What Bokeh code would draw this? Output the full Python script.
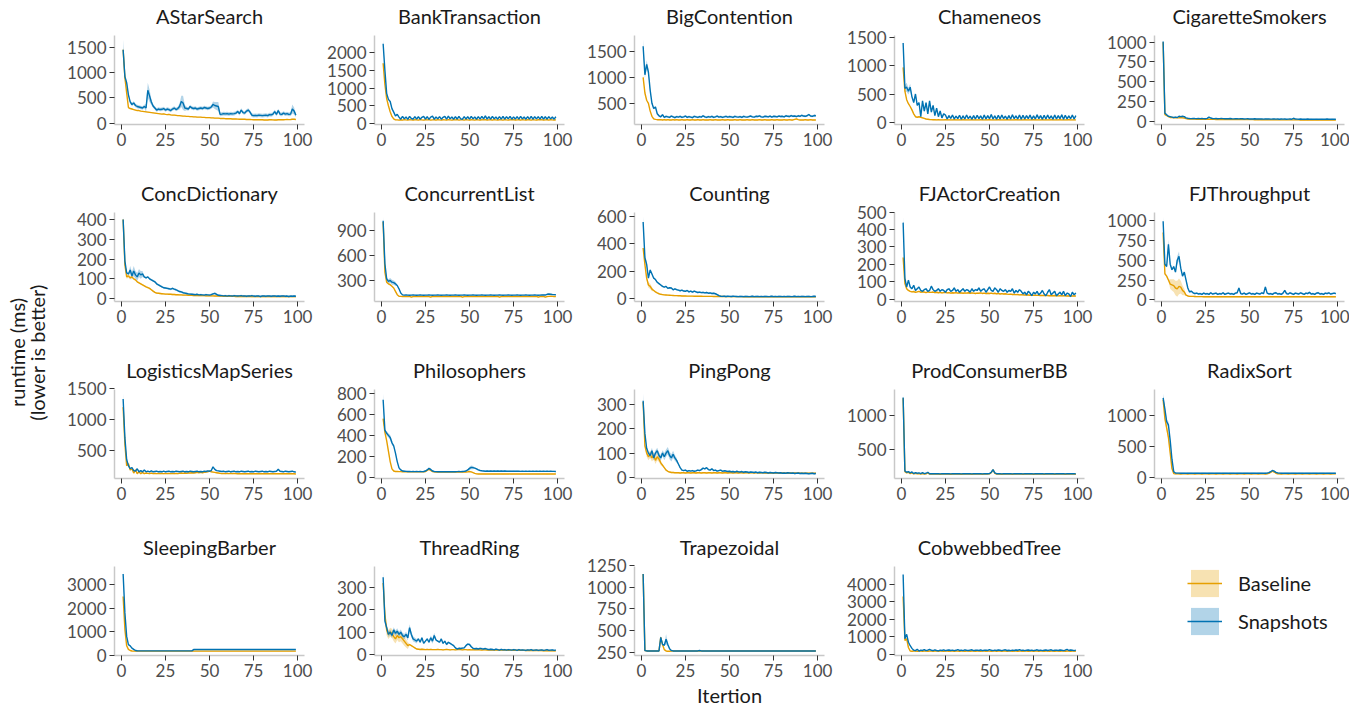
import math
from bokeh.plotting import figure
from bokeh.models import Range1d, FixedTicker, ColumnDataSource, Legend, LegendItem, Label
from bokeh.layouts import gridplot, row
from bokeh.embed import file_html
from bokeh.resources import INLINE

ITERATIONS = list(range(1, 100))
X_TICKS = [0, 25, 50, 75, 100]
BASE_COLOR = "#E69F00"
SNAP_COLOR = "#0072B2"
FONT = "Lato"

# ---------------- data (mean runtime per iteration, ms) ----------------
B_ASTAR = [1450, 900, 600, 310, 290, 280, 270, 260, 250, 250,
           240, 235, 230, 225, 220, 215, 210, 205, 200, 195,
           190, 185, 180, 185, 175, 170, 175, 165, 160, 160,
           155, 150, 150, 145, 140, 140, 135, 135, 130, 130,
           125, 125, 120, 120, 120, 115, 115, 110, 110, 110,
           105, 105, 100, 100, 100, 95, 95, 95, 90, 90,
           90, 88, 85, 85, 85, 82, 80, 80, 78, 78,
           75, 75, 75, 72, 70, 70, 70, 68, 68, 68,
           65, 65, 65, 70, 68, 66, 65, 65, 70, 68,
           68, 70, 72, 75, 72, 75, 80, 78, 75]
S_ASTAR = [1450, 920, 800, 560, 420, 370, 400, 350, 330, 320,
           310, 300, 330, 300, 650, 540, 420, 340, 300, 260,
           280, 270, 275, 290, 260, 280, 270, 250, 280, 300,
           270, 290, 330, 430, 400, 300, 290, 280, 330, 300,
           290, 300, 280, 290, 300, 290, 310, 300, 290, 300,
           320, 370, 350, 340, 330, 175, 180, 190, 185, 190,
           180, 190, 185, 190, 200, 230, 190, 260, 210, 200,
           240, 260, 220, 160, 150, 155, 150, 160, 155, 150,
           155, 160, 150, 170, 165, 180, 230, 175, 250, 180,
           175, 200, 180, 190, 175, 180, 280, 240, 160]

B_BANK = [1700, 1100, 700, 500, 330, 200, 130, 100, 100, 95,
          105, 95, 110, 100, 95, 110, 100, 95, 105, 100,
          95, 110, 100, 95, 105, 100, 110, 95, 100, 105,
          95, 110, 100, 95, 105, 100, 95, 110, 100, 95,
          105, 100, 110, 95, 100, 105, 95, 110, 100, 95,
          105, 100, 95, 110, 100, 95, 105, 100, 110, 95,
          100, 105, 95, 110, 100, 95, 105, 100, 95, 110,
          100, 95, 105, 100, 110, 95, 100, 105, 95, 110,
          100, 95, 105, 100, 95, 110, 100, 95, 105, 100,
          110, 95, 100, 105, 95, 110, 100, 95, 105]
S_BANK = [2250, 1500, 850, 680, 620, 420, 320, 210, 260, 180,
          120, 200, 130, 185, 115, 200, 140, 120, 195, 125,
          190, 120, 175, 200, 125, 190, 115, 180, 205, 120,
          185, 130, 195, 120, 175, 200, 120, 210, 130, 185,
          120, 190, 125, 200, 130, 120, 195, 125, 190, 120,
          200, 130, 185, 120, 195, 125, 200, 130, 215, 125,
          190, 120, 200, 130, 185, 120, 195, 125, 200, 120,
          190, 130, 200, 120, 185, 125, 195, 120, 200, 130,
          185, 120, 195, 125, 200, 120, 190, 130, 195, 120,
          200, 125, 190, 120, 195, 130, 185, 120, 190]

B_BIG = [1000, 700, 560, 500, 350, 250, 200, 190, 185, 185,
         185, 180, 185, 180, 185, 180, 180, 185, 180, 185,
         180, 180, 185, 180, 180, 185, 180, 180, 185, 180,
         180, 185, 180, 180, 185, 180, 180, 180, 185, 180,
         180, 185, 180, 180, 180, 185, 180, 180, 185, 180,
         180, 180, 185, 180, 180, 185, 180, 180, 180, 185,
         180, 180, 185, 180, 180, 180, 185, 180, 180, 185,
         180, 180, 180, 185, 180, 180, 185, 180, 180, 180,
         185, 180, 180, 185, 180, 180, 190, 200, 185, 180,
         180, 180, 185, 180, 180, 185, 180, 180, 180]
S_BIG = [1600, 1050, 1250, 1100, 750, 500, 400, 430, 300, 260,
         240, 280, 230, 250, 240, 230, 255, 240, 225, 245,
         235, 250, 230, 240, 255, 230, 245, 235, 225, 250,
         240, 230, 245, 235, 260, 240, 230, 245, 235, 250,
         230, 240, 255, 235, 245, 230, 240, 250, 235, 245,
         240, 230, 250, 240, 235, 245, 230, 250, 240, 235,
         245, 255, 240, 235, 250, 245, 260, 240, 235, 250,
         245, 240, 255, 235, 250, 245, 240, 255, 245, 250,
         240, 260, 250, 245, 265, 250, 255, 245, 260, 250,
         270, 255, 250, 260, 285, 255, 250, 265, 260]

B_CHAM = [970, 550, 400, 330, 280, 220, 150, 100, 90, 100,
          90, 80, 70, 60, 55, 50, 48, 47, 46, 45,
          46, 45, 44, 45, 46, 44, 45, 44, 45, 46,
          44, 45, 44, 45, 46, 44, 45, 44, 45, 46,
          44, 45, 44, 45, 46, 44, 45, 44, 45, 46,
          44, 45, 44, 45, 46, 44, 45, 44, 45, 46,
          44, 45, 44, 45, 46, 44, 45, 44, 45, 46,
          44, 45, 44, 45, 46, 44, 45, 44, 45, 46,
          44, 45, 44, 45, 46, 44, 45, 44, 45, 46,
          44, 45, 44, 45, 46, 44, 45, 44, 45]
S_CHAM = [1400, 600, 620, 550, 620, 450, 350, 500, 300, 350,
          100, 380, 200, 350, 150, 380, 180, 300, 120, 250,
          100, 200, 80, 150, 130, 60, 120, 70, 130, 60,
          110, 65, 125, 55, 115, 60, 130, 65, 110, 55,
          120, 60, 125, 65, 115, 55, 130, 60, 120, 65,
          140, 60, 115, 55, 125, 60, 130, 65, 110, 55,
          120, 60, 135, 65, 115, 60, 130, 55, 125, 60,
          120, 65, 130, 55, 115, 60, 135, 65, 120, 55,
          125, 60, 130, 65, 115, 55, 130, 60, 120, 65,
          135, 55, 125, 60, 115, 65, 130, 60, 120]

B_CIG = [1000, 80, 70, 55, 45, 45, 42, 45, 40, 42,
         45, 40, 38, 30, 26, 25, 24, 25, 24, 23,
         24, 23, 22, 23, 22, 23, 22, 21, 22, 21,
         20, 21, 20, 21, 20, 19, 20, 19, 20, 19,
         18, 19, 18, 19, 18, 18, 17, 18, 17, 18,
         17, 17, 16, 17, 16, 17, 16, 16, 15, 16,
         15, 16, 15, 15, 16, 15, 15, 14, 15, 14,
         15, 14, 15, 14, 14, 15, 14, 14, 13, 14,
         13, 14, 13, 14, 13, 13, 14, 13, 13, 14,
         13, 13, 12, 13, 12, 13, 12, 13, 12]
S_CIG = [1010, 100, 80, 60, 55, 50, 45, 50, 45, 60,
         55, 60, 55, 40, 35, 32, 30, 33, 31, 30,
         32, 30, 31, 30, 29, 33, 50, 38, 32, 30,
         31, 29, 30, 32, 30, 28, 30, 29, 31, 28,
         27, 29, 28, 27, 30, 28, 26, 27, 28, 26,
         27, 25, 28, 26, 27, 25, 26, 24, 27, 25,
         26, 24, 25, 27, 24, 25, 23, 26, 24, 25,
         23, 24, 26, 23, 35, 25, 24, 23, 25, 22,
         24, 23, 25, 22, 24, 23, 22, 24, 23, 22,
         24, 22, 23, 25, 22, 23, 24, 22, 23]

B_CONC = [400, 170, 110, 115, 105, 110, 100, 95, 85, 80,
          75, 70, 65, 60, 56, 52, 45, 38, 32, 28,
          27, 26, 25, 24, 23, 23, 22, 22, 21, 21,
          20, 20, 19, 19, 18, 18, 18, 17, 17, 17,
          16, 16, 16, 15, 15, 15, 15, 14, 14, 14,
          14, 14, 13, 13, 13, 13, 13, 12, 12, 12,
          12, 12, 12, 12, 11, 11, 11, 11, 11, 11,
          11, 11, 11, 10, 10, 10, 10, 10, 10, 10,
          10, 10, 10, 10, 10, 10, 10, 10, 10, 10,
          10, 10, 10, 10, 10, 10, 10, 10, 10]
S_CONC = [400, 190, 130, 125, 145, 115, 140, 120, 110, 130,
          120, 125, 110, 105, 110, 100, 95, 90, 85, 75,
          70, 65, 60, 55, 54, 52, 50, 48, 52, 48,
          45, 40, 36, 34, 30, 28, 26, 24, 23, 22,
          21, 20, 22, 19, 20, 19, 18, 20, 19, 18,
          20, 24, 27, 22, 17, 16, 15, 14, 15, 13,
          15, 14, 13, 15, 14, 13, 14, 15, 13, 14,
          12, 14, 13, 15, 13, 12, 14, 13, 11, 14,
          13, 12, 14, 13, 12, 13, 14, 12, 13, 12,
          13, 14, 12, 13, 11, 13, 12, 13, 12]

B_CLIST = [1000, 400, 280, 260, 250, 230, 210, 170, 130, 112,
           110, 108, 110, 109, 108, 110, 100, 108, 109, 110,
           108, 109, 110, 108, 109, 110, 108, 100, 109, 110,
           108, 109, 110, 108, 109, 110, 108, 109, 110, 108,
           109, 110, 108, 109, 110, 100, 108, 109, 110, 108,
           109, 110, 108, 109, 110, 108, 109, 110, 108, 109,
           110, 108, 109, 110, 108, 109, 100, 108, 109, 110,
           108, 109, 110, 108, 109, 110, 108, 109, 110, 108,
           109, 110, 108, 109, 110, 108, 109, 110, 100, 108,
           109, 110, 100, 108, 110, 112, 110, 109, 108]
S_CLIST = [1015, 500, 320, 290, 300, 280, 275, 260, 240, 200,
           150, 128, 125, 126, 125, 124, 125, 126, 125, 124,
           125, 126, 125, 124, 125, 125, 126, 125, 124, 125,
           125, 126, 125, 124, 125, 125, 126, 125, 124, 125,
           125, 126, 125, 124, 125, 125, 126, 125, 124, 125,
           125, 126, 125, 124, 125, 125, 126, 125, 124, 125,
           125, 126, 125, 124, 125, 125, 126, 125, 124, 125,
           125, 126, 125, 124, 125, 125, 126, 125, 124, 125,
           125, 126, 125, 124, 125, 125, 126, 125, 124, 125,
           126, 127, 126, 135, 138, 136, 133, 131, 130]

B_COUNT = [370, 250, 150, 100, 90, 70, 60, 50, 42, 36,
           32, 30, 28, 27, 26, 25, 24, 23, 22, 22,
           21, 21, 20, 20, 20, 19, 19, 19, 19, 18,
           18, 18, 18, 18, 17, 17, 17, 17, 17, 17,
           16, 16, 16, 16, 16, 16, 16, 15, 15, 15,
           15, 15, 15, 15, 15, 15, 15, 14, 14, 14,
           14, 14, 14, 14, 14, 14, 14, 14, 14, 14,
           14, 14, 14, 14, 14, 14, 14, 14, 14, 14,
           14, 14, 14, 14, 14, 14, 14, 14, 14, 14,
           14, 14, 14, 14, 14, 14, 14, 14, 14]
S_COUNT = [560, 300, 250, 150, 210, 180, 150, 140, 120, 110,
           100, 90, 85, 90, 75, 80, 78, 65, 72, 66,
           62, 58, 62, 56, 54, 60, 50, 55, 48, 55,
           50, 45, 48, 44, 46, 42, 45, 40, 42, 38,
           40, 36, 30, 22, 18, 17, 18, 16, 18, 17,
           16, 18, 17, 16, 15, 17, 16, 15, 17, 16,
           15, 16, 18, 15, 16, 17, 15, 16, 15, 17,
           16, 15, 16, 18, 15, 16, 15, 17, 16, 15,
           16, 15, 17, 16, 15, 16, 18, 15, 16, 15,
           17, 16, 15, 16, 17, 15, 16, 18, 16]

B_FJA = [240, 90, 60, 50, 45, 42, 44, 40, 42, 45,
         40, 43, 41, 38, 42, 40, 39, 41, 38, 40,
         37, 39, 36, 38, 40, 36, 38, 35, 37, 36,
         38, 35, 37, 36, 34, 36, 35, 37, 34, 36,
         35, 33, 35, 34, 36, 33, 35, 32, 34, 33,
         35, 32, 34, 31, 33, 30, 32, 30, 31, 29,
         28, 29, 27, 28, 26, 27, 25, 26, 25, 24,
         25, 24, 23, 24, 22, 23, 22, 23, 21, 22,
         21, 22, 21, 20, 21, 20, 21, 20, 19, 20,
         19, 20, 19, 18, 19, 18, 19, 18, 18]
S_FJA = [440, 120, 70, 110, 70, 60, 80, 50, 60, 70,
         50, 45, 55, 60, 45, 50, 75, 55, 45, 50,
         60, 45, 55, 50, 40, 55, 60, 45, 50, 65,
         45, 55, 40, 50, 60, 45, 55, 50, 40, 60,
         45, 55, 50, 65, 45, 55, 60, 40, 55, 70,
         50, 45, 65, 55, 40, 60, 50, 45, 55, 40,
         50, 45, 60, 35, 50, 40, 55, 45, 30, 40,
         25, 45, 35, 20, 40, 30, 45, 25, 35, 50,
         30, 20, 40, 55, 25, 35, 45, 20, 30, 40,
         25, 45, 20, 35, 30, 15, 40, 25, 35]

B_FJT = [850, 330, 300, 250, 200, 190, 180, 150, 140, 170,
         160, 120, 100, 60, 50, 45, 45, 44, 43, 42,
         42, 41, 41, 40, 40, 40, 40, 40, 40, 40,
         40, 40, 40, 39, 40, 40, 39, 40, 40, 40,
         39, 40, 40, 40, 39, 40, 40, 40, 39, 40,
         40, 40, 39, 40, 40, 40, 39, 40, 40, 40,
         39, 40, 40, 40, 39, 40, 40, 40, 39, 40,
         40, 40, 39, 40, 40, 40, 39, 40, 40, 40,
         39, 40, 40, 40, 39, 40, 40, 40, 39, 40,
         40, 40, 39, 40, 40, 40, 39, 40, 40]
S_FJT = [990, 450, 420, 700, 450, 380, 420, 350, 500, 550,
         400, 300, 350, 250, 150, 100, 110, 90, 80, 85,
         75, 80, 70, 85, 75, 80, 70, 90, 75, 80,
         85, 70, 80, 75, 90, 70, 80, 85, 75, 80,
         70, 85, 90, 150, 80, 75, 85, 70, 80, 90,
         75, 80, 70, 85, 80, 75, 90, 80, 165, 85,
         75, 80, 70, 85, 90, 75, 80, 70, 85, 120,
         80, 75, 90, 80, 70, 85, 80, 75, 90, 80,
         70, 85, 80, 95, 75, 80, 70, 85, 90, 75,
         80, 70, 85, 80, 90, 75, 80, 85, 80]

B_LOG = [1200, 600, 250, 280, 180, 200, 130, 180, 120, 150,
         120, 140, 120, 130, 125, 120, 130, 120, 125, 120,
         125, 120, 125, 120, 125, 120, 125, 120, 125, 120,
         125, 120, 125, 130, 125, 130, 125, 130, 130, 135,
         130, 135, 140, 135, 140, 135, 140, 145, 150, 160,
         150, 145, 140, 135, 130, 125, 120, 125, 120, 125,
         120, 125, 120, 125, 120, 118, 120, 118, 120, 118,
         120, 118, 120, 118, 120, 118, 120, 118, 120, 118,
         120, 118, 120, 118, 120, 118, 120, 118, 120, 118,
         120, 118, 120, 118, 120, 118, 120, 118, 115]
S_LOG = [1330, 700, 350, 250, 200, 220, 170, 160, 200, 150,
         170, 150, 180, 150, 160, 150, 165, 150, 155, 160,
         150, 155, 150, 160, 150, 155, 160, 150, 155, 150,
         160, 155, 150, 155, 160, 150, 155, 150, 160, 155,
         150, 155, 160, 150, 155, 150, 160, 155, 165, 160,
         170, 230, 190, 170, 165, 160, 155, 160, 150, 155,
         160, 150, 155, 160, 150, 155, 150, 160, 155, 150,
         155, 160, 150, 155, 150, 160, 155, 150, 155, 160,
         150, 155, 150, 160, 155, 150, 155, 160, 190, 160,
         155, 150, 160, 155, 150, 155, 160, 150, 145]

B_PHIL = [560, 430, 350, 250, 150, 80, 60, 55, 55, 54,
          54, 53, 53, 52, 52, 52, 52, 52, 52, 52,
          52, 52, 52, 52, 55, 65, 75, 65, 55, 52,
          50, 50, 50, 50, 50, 50, 50, 50, 50, 50,
          50, 50, 50, 50, 50, 50, 50, 50, 52, 55,
          52, 45, 38, 33, 32, 32, 33, 32, 31, 32,
          32, 33, 32, 31, 32, 32, 33, 32, 31, 32,
          32, 33, 32, 31, 32, 32, 33, 32, 31, 32,
          32, 33, 32, 31, 32, 32, 33, 32, 31, 32,
          32, 33, 32, 31, 32, 32, 33, 32, 31]
S_PHIL = [740, 450, 420, 400, 380, 330, 300, 230, 150, 90,
          70, 60, 58, 56, 55, 55, 54, 55, 54, 55,
          54, 55, 54, 55, 60, 70, 85, 75, 60, 55,
          54, 53, 54, 53, 54, 53, 54, 53, 54, 53,
          54, 53, 54, 55, 54, 55, 56, 60, 70, 85,
          95, 92, 88, 80, 70, 65, 62, 60, 58, 60,
          58, 60, 58, 60, 58, 60, 58, 60, 58, 60,
          58, 57, 58, 57, 58, 57, 58, 57, 56, 57,
          56, 57, 56, 57, 56, 57, 56, 57, 56, 57,
          56, 57, 56, 57, 56, 57, 56, 56, 55]

B_PING = [310, 130, 100, 85, 95, 80, 90, 70, 85, 75,
          60, 50, 40, 30, 25, 22, 20, 20, 19, 19,
          19, 18, 19, 19, 18, 19, 19, 18, 19, 19,
          18, 19, 19, 18, 19, 19, 18, 19, 19, 18,
          19, 19, 18, 19, 19, 18, 19, 19, 18, 19,
          19, 18, 19, 19, 18, 19, 19, 18, 19, 19,
          18, 19, 19, 18, 19, 19, 18, 19, 19, 18,
          18, 18, 18, 18, 18, 18, 18, 18, 18, 18,
          18, 17, 18, 17, 18, 17, 18, 17, 18, 17,
          17, 17, 17, 17, 17, 17, 17, 17, 17]
S_PING = [315, 180, 120, 100, 90, 110, 80, 100, 110, 90,
          80, 100, 85, 100, 110, 90, 80, 95, 80, 70,
          55, 40, 30, 28, 30, 25, 28, 26, 28, 25,
          27, 30, 28, 32, 38, 35, 40, 32, 30, 35,
          28, 30, 26, 28, 30, 25, 27, 26, 24, 25,
          23, 24, 22, 25, 23, 22, 24, 21, 23, 22,
          20, 22, 21, 20, 22, 19, 21, 20, 19, 21,
          20, 18, 20, 19, 18, 20, 19, 18, 19, 17,
          18, 17, 19, 18, 17, 18, 16, 17, 18, 16,
          17, 16, 17, 16, 15, 16, 17, 15, 16]

B_PROD = [1260, 165, 145, 155, 135, 145, 130, 140, 130, 135,
          128, 135, 128, 130, 145, 127, 127, 127, 128, 127,
          127, 126, 127, 127, 128, 127, 127, 126, 127, 127,
          128, 127, 127, 126, 127, 127, 128, 127, 127, 126,
          127, 127, 128, 127, 127, 126, 127, 127, 128, 130,
          150, 190, 140, 128, 127, 127, 126, 127, 127, 128,
          127, 127, 126, 127, 127, 128, 127, 127, 126, 127,
          127, 128, 127, 127, 126, 127, 127, 128, 127, 127,
          126, 127, 127, 128, 127, 127, 126, 127, 127, 128,
          127, 127, 126, 127, 127, 128, 127, 127, 126]
S_PROD = [1270, 175, 155, 165, 145, 160, 135, 150, 140, 145,
          135, 150, 135, 140, 155, 133, 132, 132, 133, 132,
          132, 131, 132, 132, 133, 132, 132, 131, 132, 132,
          133, 132, 132, 131, 132, 132, 133, 132, 132, 131,
          132, 132, 133, 132, 132, 131, 132, 132, 133, 135,
          155, 195, 145, 133, 132, 132, 131, 132, 132, 133,
          132, 132, 131, 132, 132, 133, 132, 132, 131, 132,
          132, 133, 132, 132, 131, 132, 132, 133, 132, 132,
          131, 132, 132, 133, 132, 132, 131, 132, 132, 133,
          132, 132, 131, 132, 132, 133, 132, 132, 131]

B_RADIX = [1250, 950, 800, 650, 400, 150, 70, 65, 66, 65,
           64, 65, 66, 65, 64, 65, 66, 65, 64, 65,
           66, 65, 64, 65, 66, 65, 64, 65, 66, 65,
           64, 65, 66, 65, 64, 65, 66, 65, 64, 65,
           66, 65, 64, 65, 66, 65, 64, 65, 66, 65,
           64, 65, 66, 65, 64, 65, 66, 65, 64, 68,
           75, 90, 110, 95, 75, 66, 65, 64, 65, 66,
           65, 64, 65, 66, 65, 64, 65, 66, 65, 64,
           65, 66, 65, 64, 65, 66, 65, 64, 65, 66,
           65, 64, 65, 66, 65, 64, 65, 66, 65]
S_RADIX = [1280, 1100, 900, 850, 600, 300, 100, 80, 78, 77,
           76, 77, 76, 75, 76, 77, 76, 75, 76, 77,
           76, 75, 76, 77, 76, 75, 76, 77, 76, 75,
           76, 77, 76, 75, 76, 77, 76, 75, 76, 77,
           76, 75, 76, 77, 76, 75, 76, 77, 76, 75,
           76, 77, 76, 75, 76, 77, 76, 75, 76, 78,
           85, 100, 120, 110, 90, 80, 77, 76, 75, 76,
           77, 76, 75, 76, 77, 76, 75, 76, 77, 76,
           75, 76, 77, 76, 75, 76, 77, 76, 75, 76,
           77, 76, 75, 76, 77, 76, 75, 76, 75]

B_SLEEP = [2500, 1100, 400, 250, 200, 180, 175, 175, 175, 175,
           175, 175, 175, 175, 175, 175, 175, 175, 175, 175,
           175, 175, 175, 175, 175, 175, 175, 175, 175, 175,
           175, 175, 175, 175, 175, 175, 175, 175, 175, 175,
           175, 175, 175, 175, 175, 175, 175, 175, 175, 175,
           175, 175, 175, 175, 175, 175, 175, 175, 175, 175,
           175, 175, 175, 175, 175, 175, 175, 175, 175, 175,
           175, 175, 175, 175, 175, 175, 175, 175, 175, 175,
           175, 175, 175, 175, 175, 175, 175, 175, 175, 175,
           175, 175, 175, 175, 175, 175, 175, 175, 175]
S_SLEEP = [3450, 1800, 800, 450, 400, 300, 250, 200, 190, 185,
           185, 185, 185, 185, 185, 185, 185, 185, 185, 185,
           185, 185, 185, 185, 185, 185, 185, 185, 185, 185,
           185, 185, 185, 185, 185, 185, 185, 185, 185, 185,
           240, 240, 240, 240, 240, 240, 240, 240, 240, 240,
           240, 240, 240, 240, 240, 240, 240, 240, 240, 240,
           240, 240, 240, 240, 240, 240, 240, 240, 240, 240,
           240, 240, 240, 240, 240, 240, 240, 240, 240, 240,
           240, 240, 240, 240, 240, 240, 240, 240, 240, 240,
           240, 240, 240, 240, 240, 240, 240, 240, 240]

B_THREAD = [320, 180, 110, 90, 100, 95, 80, 70, 85, 75,
            80, 70, 60, 50, 40, 45, 40, 35, 30, 25,
            24, 23, 24, 23, 22, 23, 22, 23, 22, 22,
            22, 23, 22, 22, 21, 22, 23, 22, 21, 22,
            22, 21, 22, 23, 22, 21, 22, 22, 21, 22,
            21, 22, 21, 21, 22, 21, 20, 21, 21, 20,
            21, 20, 21, 20, 20, 21, 20, 20, 21, 20,
            20, 19, 20, 20, 19, 20, 19, 20, 19, 19,
            19, 18, 19, 18, 19, 18, 18, 19, 18, 18,
            18, 17, 18, 17, 18, 17, 17, 17, 17]
S_THREAD = [345, 150, 120, 90, 100, 85, 110, 95, 105, 90,
            100, 85, 80, 90, 75, 120, 90, 70, 65, 60,
            70, 55, 75, 50, 60, 70, 55, 75, 60, 85,
            65, 60, 55, 70, 50, 60, 45, 55, 50, 45,
            40, 30, 25, 28, 27, 29, 30, 40, 47, 45,
            35, 28, 26, 27, 25, 28, 26, 25, 27, 24,
            22, 24, 23, 21, 24, 22, 20, 23, 21, 22,
            20, 22, 21, 20, 22, 21, 19, 22, 20, 21,
            20, 19, 21, 20, 22, 19, 20, 21, 19, 20,
            21, 19, 20, 22, 19, 20, 21, 19, 20]

B_TRAP = [1150, 270, 265, 265, 265, 265, 265, 265, 265, 265,
          420, 340, 280, 265, 262, 262, 265, 265, 265, 265,
          265, 265, 265, 265, 265, 265, 265, 265, 265, 265,
          265, 265, 265, 265, 265, 265, 265, 265, 265, 265,
          265, 265, 265, 265, 265, 265, 265, 265, 265, 265,
          265, 265, 265, 265, 265, 265, 265, 265, 265, 265,
          265, 265, 265, 265, 265, 265, 265, 265, 265, 265,
          265, 265, 265, 265, 265, 265, 265, 265, 265, 265,
          265, 265, 265, 265, 265, 265, 265, 265, 265, 265,
          265, 265, 265, 265, 265, 265, 265, 265, 265]
S_TRAP = [1150, 270, 265, 265, 265, 265, 265, 265, 265, 265,
          420, 340, 330, 400, 340, 290, 270, 265, 265, 265,
          265, 265, 265, 265, 265, 265, 265, 265, 265, 265,
          265, 265, 270, 265, 265, 265, 265, 265, 265, 265,
          265, 265, 265, 265, 265, 265, 265, 265, 265, 265,
          265, 265, 265, 265, 265, 265, 265, 265, 265, 265,
          265, 265, 265, 265, 265, 265, 265, 265, 265, 265,
          265, 265, 265, 265, 265, 265, 265, 265, 265, 265,
          265, 265, 265, 265, 265, 265, 265, 265, 265, 265,
          265, 265, 265, 265, 265, 265, 265, 265, 265]

B_COB = [3300, 800, 900, 400, 200, 190, 200, 195, 190, 200,
         195, 190, 200, 195, 190, 200, 195, 190, 200, 195,
         190, 200, 195, 190, 200, 195, 190, 200, 195, 190,
         200, 195, 190, 200, 195, 190, 200, 195, 190, 200,
         195, 190, 200, 195, 190, 200, 195, 190, 200, 195,
         190, 200, 195, 190, 200, 195, 190, 200, 195, 190,
         200, 195, 190, 200, 195, 190, 200, 195, 190, 200,
         195, 190, 200, 195, 190, 200, 195, 190, 200, 195,
         190, 200, 195, 190, 200, 195, 190, 200, 195, 190,
         200, 195, 190, 200, 195, 190, 200, 195, 190]
S_COB = [4550, 900, 1150, 700, 500, 350, 250, 220, 300, 200,
         250, 230, 280, 220, 250, 300, 240, 220, 260, 230,
         210, 250, 230, 270, 220, 240, 260, 230, 250, 220,
         240, 280, 230, 250, 220, 260, 240, 230, 250, 270,
         220, 240, 250, 230, 260, 220, 240, 250, 230, 280,
         240, 220, 250, 230, 260, 240, 220, 250, 270, 230,
         240, 220, 250, 230, 260, 240, 280, 230, 250, 220,
         240, 260, 230, 250, 220, 240, 270, 230, 250, 220,
         240, 260, 230, 250, 270, 220, 240, 250, 230, 260,
         240, 220, 250, 300, 230, 260, 240, 220, 250]

# band half-widths: (default, {iteration: half-width})
ERR_B = {
    "AStarSearch": (10, {1: 50, 2: 40}),
    "BankTransaction": (10, {1: 60}),
    "BigContention": (10, {1: 40}),
    "Chameneos": (10, {1: 40}),
    "CigaretteSmokers": (5, {1: 20}),
    "ConcDictionary": (4, {2: 15, 3: 10, 4: 10, 5: 10}),
    "ConcurrentList": (3, {3: 10, 4: 12, 5: 12}),
    "Counting": (4, {3: 15, 4: 20, 5: 20, 6: 15}),
    "FJActorCreation": (4, {1: 20}),
    "FJThroughput": (8, {5: 60, 6: 70, 7: 80, 8: 90, 9: 100, 10: 100, 11: 80, 12: 60, 13: 40}),
    "LogisticsMapSeries": (8, {1: 40}),
    "Philosophers": (4, {1: 30}),
    "PingPong": (3, {3: 15, 4: 15, 5: 15, 6: 15, 7: 15, 8: 15, 9: 15, 10: 12, 11: 10}),
    "ProdConsumerBB": (4, {1: 40}),
    "RadixSort": (8, {2: 40, 3: 50, 4: 50}),
    "SleepingBarber": (15, {1: 100}),
    "ThreadRing": (3, {2: 25, 3: 25, 4: 20, 5: 20, 6: 20, 7: 20, 8: 20, 9: 20, 10: 20,
                       11: 20, 12: 20, 13: 20, 14: 18, 15: 15}),
    "Trapezoidal": (3, {1: 20}),
    "CobwebbedTree": (15, {1: 150}),
}
ERR_S = {
    "AStarSearch": (35, {1: 200, 2: 80, 14: 80, 15: 150, 16: 120, 17: 60, 33: 60, 34: 110,
                         35: 140, 36: 60, 52: 60, 53: 70, 54: 80, 55: 90, 97: 90, 98: 70}),
    "BankTransaction": (15, {1: 120}),
    "BigContention": (20, {1: 130, 2: 60, 3: 80, 4: 60}),
    "Chameneos": (15, {1: 60, 2: 60, 3: 80, 4: 60, 5: 60}),
    "CigaretteSmokers": (4, {1: 25}),
    "ConcDictionary": (5, {1: 15, 5: 20, 6: 20, 7: 25, 8: 20, 9: 20, 10: 20, 11: 20, 12: 15}),
    "ConcurrentList": (4, {1: 50, 3: 20, 4: 25, 5: 30, 6: 30, 7: 25, 8: 25}),
    "Counting": (6, {1: 40, 2: 20, 3: 20}),
    "FJActorCreation": (5, {1: 35}),
    "FJThroughput": (12, {1: 60, 4: 60, 9: 50, 10: 60}),
    "LogisticsMapSeries": (8, {1: 90}),
    "Philosophers": (6, {1: 60, 3: 20, 4: 20, 5: 25, 6: 25, 49: 10, 50: 15, 51: 18, 52: 15}),
    "PingPong": (3, {1: 30, 5: 12, 6: 12, 7: 12, 8: 12, 9: 12, 10: 12, 11: 12, 12: 12, 13: 15,
                     14: 15, 15: 15, 16: 15, 17: 15, 18: 15, 19: 12, 20: 10}),
    "ProdConsumerBB": (5, {1: 60}),
    "RadixSort": (10, {1: 70, 2: 40, 3: 40, 4: 50}),
    "SleepingBarber": (20, {1: 150}),
    "ThreadRing": (4, {1: 30, 2: 10, 3: 12, 4: 12, 5: 12, 6: 12, 7: 12, 8: 12, 9: 12, 10: 12,
                       11: 12, 12: 12, 13: 12, 14: 12, 15: 12, 16: 15, 17: 12, 18: 12,
                       19: 10, 20: 10, 28: 10, 29: 12, 30: 12}),
    "Trapezoidal": (4, {1: 40, 11: 20, 12: 15, 14: 60, 15: 20}),
    "CobwebbedTree": (20, {1: 220}),
}

PANELS = [
    ("AStarSearch", B_ASTAR, S_ASTAR, [0, 500, 1000, 1500]),
    ("BankTransaction", B_BANK, S_BANK, [0, 500, 1000, 1500, 2000]),
    ("BigContention", B_BIG, S_BIG, [500, 1000, 1500]),
    ("Chameneos", B_CHAM, S_CHAM, [0, 500, 1000, 1500]),
    ("CigaretteSmokers", B_CIG, S_CIG, [0, 250, 500, 750, 1000]),
    ("ConcDictionary", B_CONC, S_CONC, [0, 100, 200, 300, 400]),
    ("ConcurrentList", B_CLIST, S_CLIST, [300, 600, 900]),
    ("Counting", B_COUNT, S_COUNT, [0, 200, 400, 600]),
    ("FJActorCreation", B_FJA, S_FJA, [0, 100, 200, 300, 400, 500]),
    ("FJThroughput", B_FJT, S_FJT, [0, 250, 500, 750, 1000]),
    ("LogisticsMapSeries", B_LOG, S_LOG, [500, 1000, 1500]),
    ("Philosophers", B_PHIL, S_PHIL, [0, 200, 400, 600, 800]),
    ("PingPong", B_PING, S_PING, [0, 100, 200, 300]),
    ("ProdConsumerBB", B_PROD, S_PROD, [500, 1000]),
    ("RadixSort", B_RADIX, S_RADIX, [0, 500, 1000]),
    ("SleepingBarber", B_SLEEP, S_SLEEP, [0, 1000, 2000, 3000]),
    ("ThreadRing", B_THREAD, S_THREAD, [0, 100, 200, 300]),
    ("Trapezoidal", B_TRAP, S_TRAP, [250, 500, 750, 1000, 1250]),
    ("CobwebbedTree", B_COB, S_COB, [0, 1000, 2000, 3000, 4000]),
]

# ---------------- layout constants ----------------
# Each panel's frame includes a strip of TITLE_H px above the data area for the panel title.
FRAME_W, DATA_H, TITLE_H = 190, 89, 35
FRAME_H = DATA_H + TITLE_H
BORDER_L, BORDER_R, BORDER_R_LAST = 60, 10, 5
BORDER_B = 53
BORDER_B_LAST = 54
LABEL_W = 54
TITLE_FROM_TOP = 15


def band(vals, spec):
    default, over = spec
    half = [over.get(i + 1, default) for i in range(len(vals))]
    return [v - h for v, h in zip(vals, half)], [v + h for v, h in zip(vals, half)]


def base_figure(col, last_row, x_range, y_range, **kw):
    return figure(frame_width=FRAME_W, frame_height=FRAME_H,
                  x_range=x_range, y_range=y_range,
                  output_backend="svg", toolbar_location=None,
                  min_border_left=BORDER_L,
                  min_border_right=(BORDER_R_LAST if col == 4 else BORDER_R),
                  min_border_top=0,
                  min_border_bottom=(BORDER_B_LAST if last_row else BORDER_B), **kw)


def make_panel(name, base, snap, yticks, col, last_row, xlabel=None):
    b_lo, b_hi = band(base, ERR_B[name])
    s_lo, s_hi = band(snap, ERR_S[name])
    lo = min(min(b_lo), min(s_lo))
    hi = max(max(b_hi), max(s_hi))
    pad = 0.05 * (hi - lo)
    y0, y1 = lo - pad, hi + pad
    y_top = y1 + (y1 - y0) * TITLE_H / DATA_H      # room for the title strip
    xpad = 0.05 * (ITERATIONS[-1] - ITERATIONS[0])
    p = base_figure(col, last_row,
                    Range1d(ITERATIONS[0] - xpad, ITERATIONS[-1] + xpad),
                    Range1d(y0, y_top))
    src = ColumnDataSource(dict(x=ITERATIONS, b=base, s=snap, blo=b_lo, bhi=b_hi, slo=s_lo, shi=s_hi))
    p.varea(x="x", y1="blo", y2="bhi", source=src, fill_color=BASE_COLOR, fill_alpha=0.3)
    p.varea(x="x", y1="slo", y2="shi", source=src, fill_color=SNAP_COLOR, fill_alpha=0.3)
    p.line(x="x", y="b", source=src, line_color=BASE_COLOR, line_width=1.4)
    p.line(x="x", y="s", source=src, line_color=SNAP_COLOR, line_width=1.4)

    # panel title (strip label) inside the title strip of the frame
    p.add_layout(Label(x=FRAME_W / 2, y=FRAME_H - TITLE_FROM_TOP, x_units="screen", y_units="screen",
                       text=name, text_align="center", text_baseline="middle",
                       text_font=FONT, text_font_size="20px", text_color="#1A1A1A"))

    p.xgrid.visible = False
    p.ygrid.visible = False
    p.outline_line_color = None
    p.xaxis.ticker = FixedTicker(ticks=X_TICKS)
    p.yaxis.ticker = FixedTicker(ticks=yticks)
    p.yaxis.bounds = (y0, y1)
    for ax in (p.xaxis[0], p.yaxis[0]):
        ax.axis_line_color = "#C8C8C8"
        ax.axis_line_width = 1.5
        ax.major_tick_line_color = "#333333"
        ax.major_tick_line_width = 1
        ax.major_tick_out = 5
        ax.major_tick_in = 0
        ax.minor_tick_line_color = None
        ax.major_label_text_font = FONT
        ax.major_label_text_font_size = "17px"
        ax.major_label_text_color = "#4D4D4D"
        ax.major_label_standoff = 3
    if xlabel:
        p.xaxis.axis_label = xlabel
        p.xaxis.axis_label_text_font = FONT
        p.xaxis.axis_label_text_font_size = "20px"
        p.xaxis.axis_label_text_font_style = "normal"
        p.xaxis.axis_label_text_color = "#1A1A1A"
        p.xaxis.axis_label_standoff = 3
    return p


panels = []
for i, (name, base, snap, yt) in enumerate(PANELS):
    r, c = divmod(i, 5)
    panels.append(make_panel(name, base, snap, yt, c, r == 3,
                             xlabel=("Itertion" if name == "Trapezoidal" else None)))

# legend cell: same frame geometry as the panels, no axes
lg = base_figure(4, True, Range1d(0, 1), Range1d(0, 1),
                 x_axis_location=None, y_axis_location=None)
lg.xgrid.visible = False
lg.ygrid.visible = False
lg.outline_line_color = None
hidden = ColumnDataSource(dict(x=[-5, -4], y=[-5, -5], y1=[-6, -6], y2=[-5, -5]))
rb_band = lg.varea(x="x", y1="y1", y2="y2", source=hidden, fill_color=BASE_COLOR, fill_alpha=0.3)
rb_line = lg.line(x="x", y="y", source=hidden, line_color=BASE_COLOR, line_width=1.4)
rs_band = lg.varea(x="x", y1="y1", y2="y2", source=hidden, fill_color=SNAP_COLOR, fill_alpha=0.3)
rs_line = lg.line(x="x", y="y", source=hidden, line_color=SNAP_COLOR, line_width=1.4)
legend = Legend(items=[LegendItem(label="Baseline", renderers=[rb_band, rb_line]),
                       LegendItem(label="Snapshots", renderers=[rs_band, rs_line])],
                location=(33, 17), glyph_width=35, glyph_height=34, spacing=4,
                padding=0, margin=0, border_line_color=None, background_fill_alpha=0,
                label_text_font=FONT, label_text_font_size="20px", label_text_color="#1A1A1A",
                label_standoff=16, label_height=34)
lg.add_layout(legend)

# y-axis label cell
leg_h = FRAME_H + BORDER_B_LAST
total_h = 3 * (FRAME_H + BORDER_B) + leg_h
yl = figure(frame_width=LABEL_W, frame_height=total_h, min_border=0,
            x_range=Range1d(0, LABEL_W), y_range=Range1d(0, total_h),
            x_axis_location=None, y_axis_location=None,
            output_backend="svg", toolbar_location=None)
yl.xgrid.visible = False
yl.ygrid.visible = False
yl.outline_line_color = None
for txt, xx in (("runtime (ms)", 16), ("(lower is better)", 36)):
    yl.add_layout(Label(x=xx, y=total_h - 352, text=txt, angle=math.pi / 2,
                        text_align="center", text_baseline="middle",
                        text_font=FONT, text_font_size="20px", text_color="#1A1A1A"))

grid = gridplot([panels[0:5], panels[5:10], panels[10:15], panels[15:19] + [lg]],
                toolbar_location=None)
layout = row(yl, grid)

with open("out.html", "w") as f:
    f.write(file_html(layout, INLINE))
